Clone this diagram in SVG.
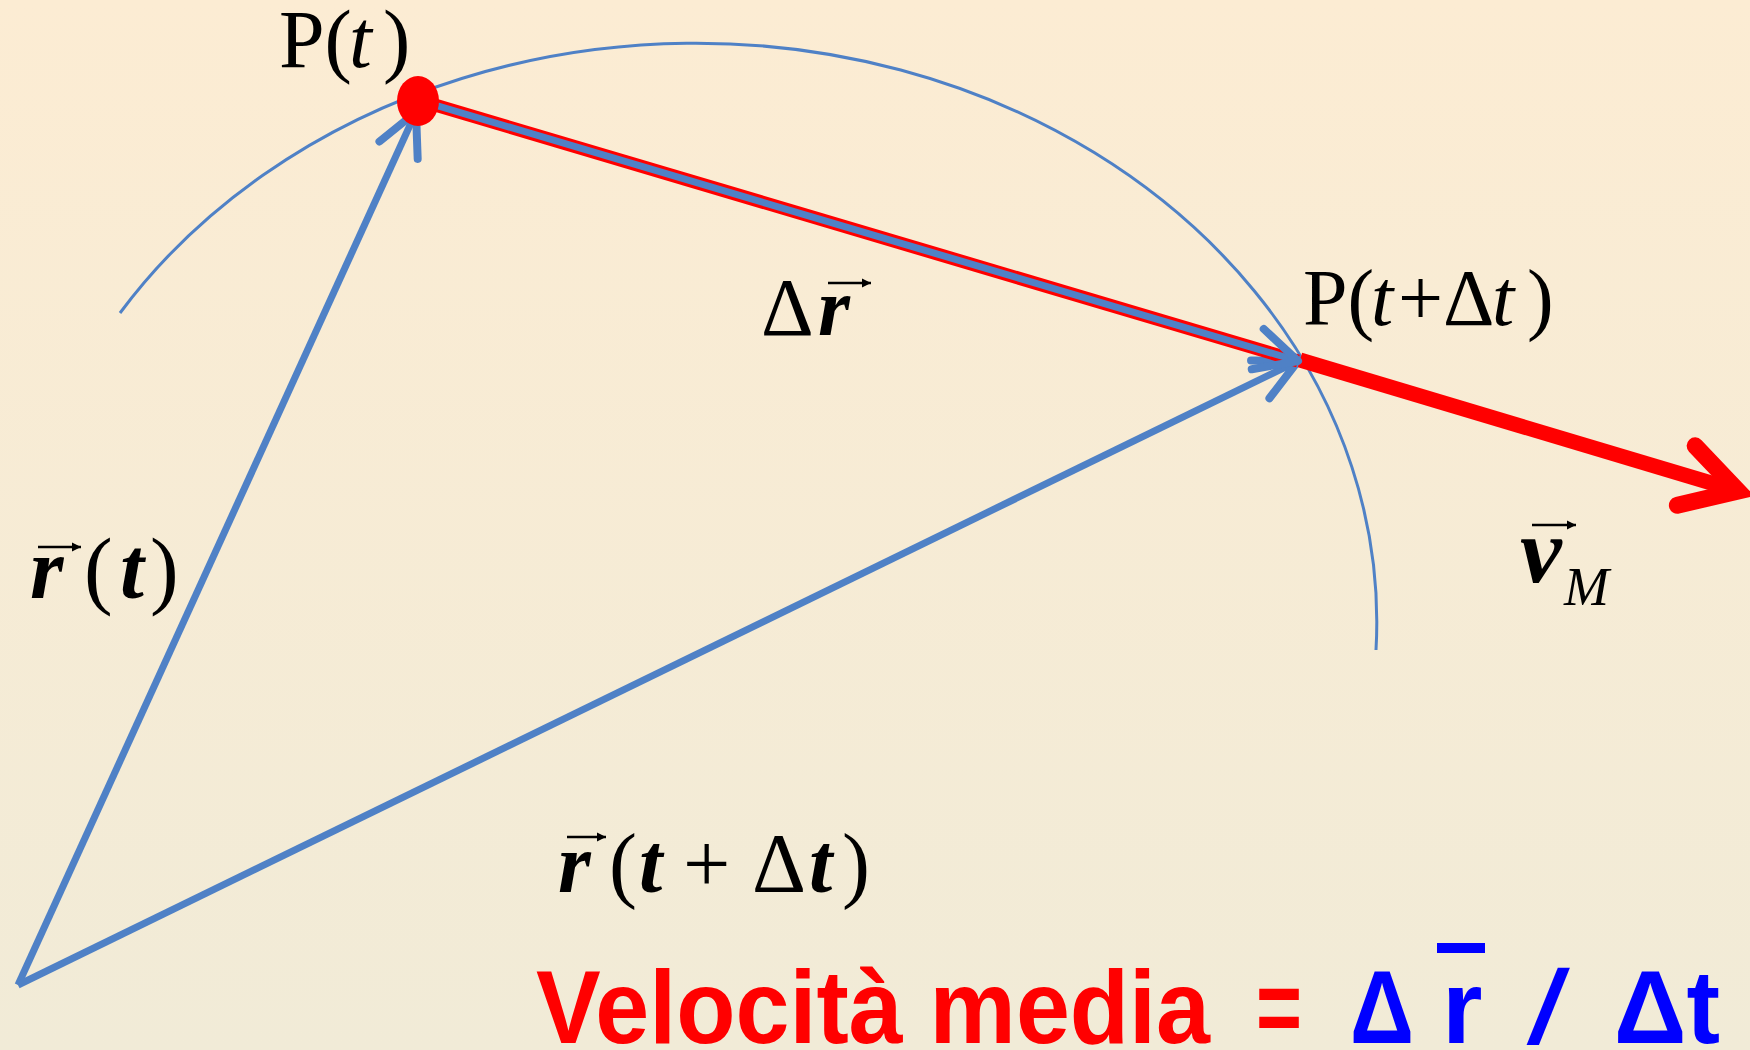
<svg xmlns="http://www.w3.org/2000/svg" width="1750" height="1050" viewBox="0 0 1750 1050">
<defs>
<linearGradient id="bg" x1="0" y1="0" x2="0" y2="1">
<stop offset="0" stop-color="#FCECD3"/>
<stop offset="1" stop-color="#F1EBD7"/>
</linearGradient>
<marker id="blueHead" markerUnits="userSpaceOnUse" orient="auto" refX="0" refY="0" markerWidth="60" markerHeight="60" overflow="visible">
<path d="M-42,-21 L0,0 L-42,21" fill="none" stroke="#4F81C6" stroke-width="8" stroke-linecap="round" stroke-linejoin="round"/>
</marker>
<marker id="redHead" markerUnits="userSpaceOnUse" orient="auto" refX="0" refY="0" markerWidth="90" markerHeight="90" overflow="visible">
<path d="M-54,-31 L0,0 L-54,31" fill="none" stroke="#FF0000" stroke-width="17" stroke-linecap="round" stroke-linejoin="miter"/>
</marker>
<marker id="vecHead" markerUnits="userSpaceOnUse" orient="auto" refX="0" refY="0" markerWidth="20" markerHeight="20" overflow="visible">
<path d="M-9,-4.5 L0,0 L-9,4.5 Z" fill="#000"/>
</marker>
<style>
.serif{font-family:"Liberation Serif","Times New Roman",serif;fill:#000}
.it{font-style:italic}
.bi{font-style:italic;font-weight:bold}
.vec{stroke:#000;stroke-width:2.5;fill:none;marker-end:url(#vecHead)}
.bottom{font-family:"Liberation Sans",Arial,sans-serif;font-weight:bold;font-size:104px}
.blueVec{stroke:#4F81C6;stroke-width:7;fill:none;marker-end:url(#blueHead)}
</style>
</defs>
<rect x="0" y="0" width="1750" height="1050" fill="url(#bg)"/>

<g id="trajectory">
<path d="M120,313 A681,579 0 0 1 1376,650" fill="none" stroke="#4F81C6" stroke-width="3"/>
</g>

<g id="connectors">
<line class="blueVec" x1="18" y1="985" x2="416" y2="112"/>
<line class="blueVec" x1="18" y1="985" x2="1298" y2="361"/>
<line x1="1300" y1="360" x2="1738" y2="491" stroke="#FF0000" stroke-width="15" marker-end="url(#redHead)"/>
<line x1="418" y1="100" x2="1298" y2="361" stroke="#FF0000" stroke-width="13"/>
<line class="blueVec" x1="418" y1="100" x2="1298" y2="361"/>
</g>

<g id="point-Pt">
<ellipse cx="418" cy="101" rx="21" ry="25" fill="#FF0000"/>
<text class="serif" font-size="82" y="67"><tspan x="279">P(</tspan><tspan class="it" x="349">t</tspan><tspan x="383">)</tspan></text>
</g>

<g id="point-Ptdt">
<text class="serif" font-size="80" y="325"><tspan x="1303">P(</tspan><tspan class="it" x="1371">t</tspan><tspan x="1398">+Δ</tspan><tspan class="it" x="1492">t</tspan><tspan x="1527">)</tspan></text>
</g>

<g id="label-dr">
<text class="serif" font-size="82" y="335"><tspan x="761">Δ</tspan><tspan class="bi" x="818">r</tspan></text>
<line class="vec" x1="828" y1="283" x2="871" y2="283"/>
</g>

<g id="label-rt">
<text class="serif" font-size="86" y="598"><tspan class="bi" x="30">r</tspan><tspan x="84">(</tspan><tspan class="bi" x="120">t</tspan><tspan x="150">)</tspan></text>
<line class="vec" x1="38" y1="547" x2="81" y2="547"/>
</g>

<g id="label-rtdt">
<text class="serif" font-size="84" y="892"><tspan class="bi" x="558">r</tspan><tspan x="609">(</tspan><tspan class="bi" x="639">t</tspan><tspan x="683">+</tspan><tspan x="752">Δ</tspan><tspan class="bi" x="809">t</tspan><tspan x="842">)</tspan></text>
<line class="vec" x1="567" y1="837" x2="606" y2="837"/>
</g>

<g id="label-vM">
<text class="serif" y="582"><tspan class="bi" font-size="94" x="1520">v</tspan><tspan class="it" font-size="54" x="1564" y="605">M</tspan></text>
<line class="vec" x1="1532" y1="525" x2="1576" y2="525"/>
</g>

<g id="formula">
<text class="bottom" fill="#FF0000" x="536" y="1043" textLength="674" lengthAdjust="spacingAndGlyphs">Velocità media</text>
<text class="bottom" fill="#FF0000" x="1256" y="1043" textLength="46" lengthAdjust="spacingAndGlyphs">=</text>
<text class="bottom" fill="#0000FF" x="1350" y="1043" textLength="64" lengthAdjust="spacingAndGlyphs">Δ</text>
<text class="bottom" fill="#0000FF" x="1442" y="1043">r</text>
<rect x="1437" y="943" width="48" height="10" fill="#0000FF"/>
<text class="bottom" fill="#0000FF" x="1526" y="1043" transform="translate(0,1043) skewX(-12) translate(0,-1043)">/</text>
<text class="bottom" fill="#0000FF" x="1614" y="1043" textLength="106" lengthAdjust="spacingAndGlyphs">Δt</text>
</g>
</svg>
